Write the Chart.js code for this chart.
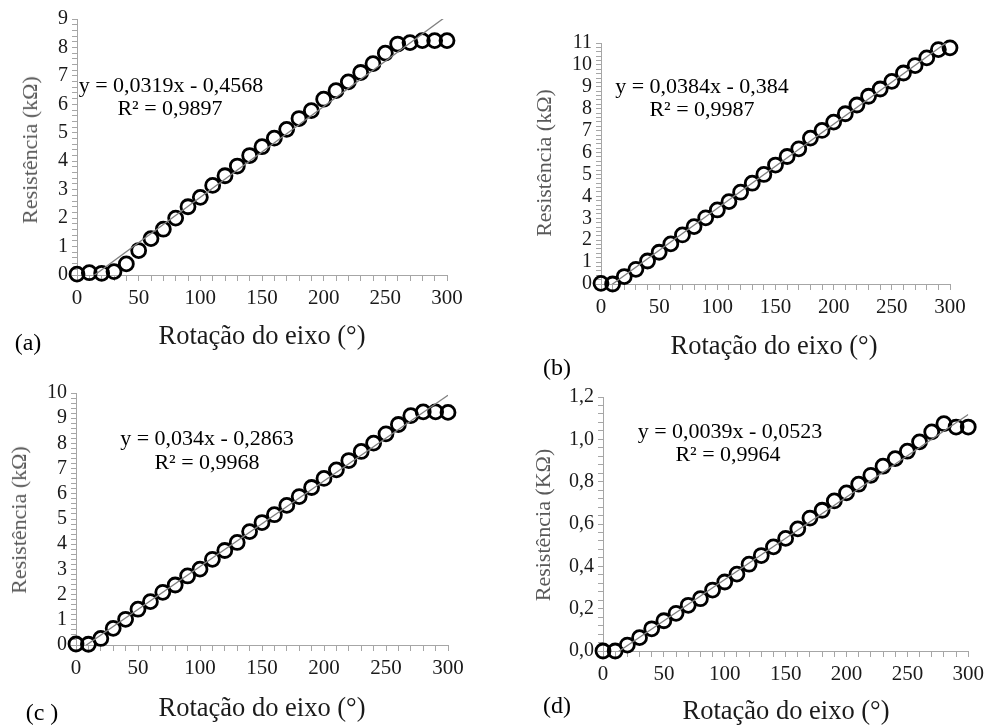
<!DOCTYPE html>
<html>
<head>
<meta charset="utf-8">
<script src="https://cdn.jsdelivr.net/npm/chart.js@4.4.1/dist/chart.umd.min.js"></script>
<style>
  html, body { margin: 0; padding: 0; background: #fff; }
  body { width: 989px; height: 725px; position: relative; overflow: hidden; font-family: "Liberation Serif", "Times New Roman", serif; }
  canvas { position: absolute; }
  .t { position: absolute; white-space: nowrap; font-family: "Liberation Serif", serif; color: #000; transform: translate(-50%, -50%); line-height: 1; }
  .yt { position: absolute; white-space: nowrap; font-family: "Liberation Serif", serif; color: #595959; transform: translate(-50%, -50%) rotate(-90deg); line-height: 1; }
</style>
</head>
<body>
<canvas id="ca"></canvas>
<canvas id="cb"></canvas>
<canvas id="cc"></canvas>
<canvas id="cd"></canvas>

<div class="yt" style="left:30px;top:150px;font-size:22px;">Resistência (kΩ)</div>
<div class="yt" style="left:544px;top:163px;font-size:22px;">Resistência (kΩ)</div>
<div class="yt" style="left:19px;top:520px;font-size:22px;">Resistência (kΩ)</div>
<div class="yt" style="left:543px;top:525px;font-size:22px;">Resistência (KΩ)</div>

<div class="t" style="left:262px;top:335px;font-size:26.5px;color:#1a1a1a;">Rotação do eixo (°)</div>
<div class="t" style="left:774px;top:345px;font-size:26.5px;color:#1a1a1a;">Rotação do eixo (°)</div>
<div class="t" style="left:262px;top:707px;font-size:26.5px;color:#1a1a1a;">Rotação do eixo (°)</div>
<div class="t" style="left:786px;top:710px;font-size:26.5px;color:#1a1a1a;">Rotação do eixo (°)</div>

<div class="t" style="left:28px;top:342px;font-size:24px;">(a)</div>
<div class="t" style="left:557px;top:367px;font-size:24px;">(b)</div>
<div class="t" style="left:42px;top:712px;font-size:24px;">(c )</div>
<div class="t" style="left:557px;top:705px;font-size:24px;">(d)</div>

<div class="t" style="left:171px;top:85px;font-size:22px;">y = 0,0319x - 0,4568</div>
<div class="t" style="left:170px;top:108px;font-size:22px;">R² = 0,9897</div>
<div class="t" style="left:702px;top:86px;font-size:22px;">y = 0,0384x - 0,384</div>
<div class="t" style="left:702px;top:109px;font-size:22px;">R² = 0,9987</div>
<div class="t" style="left:207px;top:438px;font-size:22px;">y = 0,034x - 0,2863</div>
<div class="t" style="left:207px;top:462px;font-size:22px;">R² = 0,9968</div>
<div class="t" style="left:730px;top:431px;font-size:22px;">y = 0,0039x - 0,0523</div>
<div class="t" style="left:728px;top:454px;font-size:22px;">R² = 0,9964</div>

<script>
// ---- data ----
const angles = [0,10,20,30,40,50,60,70,80,90,100,110,120,130,140,150,160,170,180,190,200,210,220,230,240,250,260,270,280,290,300];
const resA = [0.03,0.08,0.06,0.12,0.39,0.86,1.28,1.61,2.0,2.4,2.73,3.15,3.49,3.83,4.2,4.51,4.81,5.12,5.5,5.78,6.18,6.48,6.79,7.12,7.43,7.8,8.12,8.17,8.24,8.24,8.24];
const resB = [0.03,0.0,0.34,0.67,1.05,1.45,1.83,2.24,2.62,3.02,3.38,3.76,4.19,4.6,5.0,5.43,5.82,6.17,6.66,7.01,7.39,7.77,8.17,8.57,8.9,9.25,9.63,9.97,10.32,10.7,10.78];
const resC = [0.04,0.03,0.26,0.66,1.02,1.42,1.72,2.09,2.38,2.74,3.01,3.4,3.75,4.07,4.5,4.86,5.17,5.54,5.89,6.25,6.61,6.95,7.32,7.68,8.01,8.38,8.75,9.1,9.25,9.25,9.23];
const resD = [0.0,0.0,0.028,0.063,0.105,0.143,0.178,0.216,0.247,0.288,0.326,0.363,0.41,0.451,0.492,0.532,0.577,0.628,0.665,0.709,0.747,0.788,0.83,0.873,0.909,0.944,0.988,1.035,1.074,1.058,1.058];
// trendline coefficients [slope, intercept]
const fitA = [0.0319, -0.4568];
const fitB = [0.0384, -0.384];
const fitC = [0.034, -0.2863];
const fitD = [0.0039, -0.0523];
// axis ranges
const yMaxA = 9, yMaxB = 11, yMaxC = 10, yMaxD = 1.2;
const xTicksMajor = 50;

function makeChart(id, box, area, values, fit, yMax, yMinor, yMajor, decimals) {
  const cv = document.getElementById(id);
  cv.style.left = box.x + 'px';
  cv.style.top = box.y + 'px';
  cv.width = box.w; cv.height = box.h;
  cv.style.width = box.w + 'px'; cv.style.height = box.h + 'px';
  const pts = angles.map((a, i) => ({x: a, y: values[i]}));
  const x0 = angles[0], x1 = angles[angles.length - 1];
  const trend = [{x: x0, y: fit[0]*x0 + fit[1]}, {x: x1, y: fit[0]*x1 + fit[1]}];
  const axisCol = '#a6a6a6';
  return new Chart(cv, {
    type: 'scatter',
    data: {
      datasets: [
        { type: 'line', data: trend, borderColor: '#808080', borderWidth: 1.3, pointRadius: 0, fill: false, order: 0, clip: 0 },
        { data: pts, pointStyle: 'circle', pointRadius: 7, borderWidth: 2.8, borderColor: '#000', backgroundColor: 'rgba(0,0,0,0)', order: 1, clip: false }
      ]
    },
    options: {
      responsive: false,
      animation: false,
      devicePixelRatio: 1,
      layout: { padding: { left: 0, top: area.top - box.y, right: box.x + box.w - area.right, bottom: 0 } },
      plugins: { legend: { display: false }, tooltip: { enabled: false } },
      scales: {
        x: {
          type: 'linear', min: 0, max: 300,
          afterFit: s => { s.height = box.y + box.h - area.bottom; },
          border: { display: true, color: axisCol, width: 1 },
          grid: { drawOnChartArea: false, drawTicks: true, tickLength: 6, tickColor: axisCol },
          ticks: {
            stepSize: 10, autoSkip: false, maxRotation: 0, padding: 5,
            color: '#1a1a1a', font: { family: 'Liberation Serif', size: 21 },
            callback: v => (v % xTicksMajor === 0 ? String(v) : '')
          }
        },
        y: {
          type: 'linear', min: 0, max: yMax,
          afterFit: s => { s.width = area.left - box.x; },
          border: { display: true, color: axisCol, width: 1 },
          grid: { drawOnChartArea: false, drawTicks: true, tickLength: 5, tickColor: axisCol },
          ticks: {
            stepSize: yMinor, autoSkip: false, padding: 4,
            color: '#1a1a1a', font: { family: 'Liberation Serif', size: 20 },
            callback: v => {
              const r = v / yMajor;
              if (Math.abs(r - Math.round(r)) > 1e-6) return '';
              return v.toFixed(decimals).replace('.', ',');
            }
          }
        }
      }
    }
  });
}

makeChart('ca', {x: 0, y: 0, w: 490, h: 360}, {left: 77, right: 447, top: 19, bottom: 275}, resA, fitA, yMaxA, 0.2, 1, 0);
makeChart('cb', {x: 490, y: 0, w: 499, h: 370}, {left: 601, right: 950, top: 43, bottom: 284}, resB, fitB, yMaxB, 0.2, 1, 0);
makeChart('cc', {x: 0, y: 360, w: 490, h: 365}, {left: 76, right: 448, top: 393, bottom: 645}, resC, fitC, yMaxC, 0.2, 1, 0);
makeChart('cd', {x: 490, y: 370, w: 499, h: 355}, {left: 603, right: 969, top: 397, bottom: 651}, resD, fitD, yMaxD, 0.04, 0.2, 1);
</script>
</body>
</html>
